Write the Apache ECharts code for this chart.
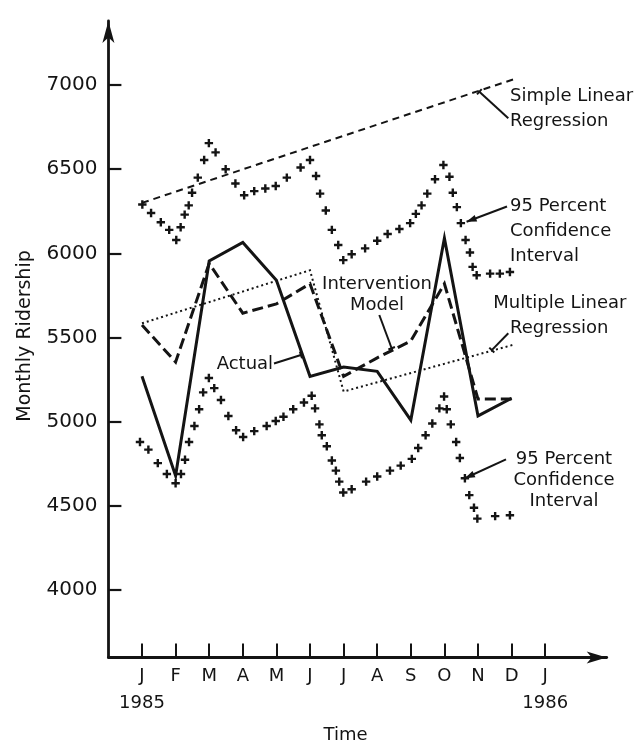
<!DOCTYPE html>
<html>
<head>
<meta charset="utf-8">
<script src="https://cdn.jsdelivr.net/npm/echarts@6/dist/echarts.min.js"></script>
<style>
  html, body { margin: 0; padding: 0; background: #ffffff; }
  #chart { width: 639px; height: 745px; }
</style>
</head>
<body>
<div id="chart"></div>
<script>
// Month ticks: 0 = January 1985 ... 12 = January 1986
const monthLabels = ['J', 'F', 'M', 'A', 'M', 'J', 'J', 'A', 'S', 'O', 'N', 'D', 'J'];
const yearLabels = { 0: '1985', 12: '1986' };
const ridershipTicks = [4000, 4500, 5000, 5500, 6000, 6500, 7000];

// Monthly ridership, Jan..Dec 1985
const actual       = [5270, 4680, 5955, 6065, 5840, 5270, 5325, 5300, 5010, 6090, 5035, 5140];
const intervention = [5575, 5355, 5940, 5645, 5700, 5820, 5270, 5380, 5480, 5820, 5135, 5135];

// Regression fits as [month, ridership] vertices
const simpleRegression   = [[0, 6300], [11.15, 7040]];
const multipleRegression = [[0, 5585], [5, 5900], [6, 5180], [11.1, 5460]];

// 95 percent confidence band, plotted as + marks [month, ridership]
const upperCI = [
  [0.01, 6290], [0.27, 6240], [0.56, 6185], [0.81, 6140], [1.02, 6080], [1.15, 6155],
  [1.27, 6230], [1.39, 6285], [1.49, 6360], [1.66, 6450], [1.85, 6555], [1.99, 6655],
  [2.19, 6600], [2.49, 6500], [2.78, 6415], [3.04, 6345], [3.34, 6370], [3.67, 6385],
  [3.98, 6400], [4.31, 6450], [4.72, 6510], [5.00, 6555], [5.18, 6460], [5.30, 6355],
  [5.47, 6255], [5.65, 6140], [5.84, 6050], [5.99, 5960], [6.24, 5995], [6.64, 6030],
  [7.00, 6075], [7.31, 6115], [7.66, 6145], [7.98, 6180], [8.15, 6235], [8.32, 6285],
  [8.49, 6355], [8.72, 6440], [8.97, 6525], [9.15, 6455], [9.25, 6360], [9.37, 6275],
  [9.49, 6180], [9.63, 6080], [9.76, 6005], [9.84, 5920], [9.96, 5870], [10.36, 5880],
  [10.65, 5880], [10.95, 5890]
];
const lowerCI = [
  [-0.06, 4880], [0.19, 4835], [0.47, 4755], [0.74, 4690], [1.00, 4635], [1.16, 4690],
  [1.28, 4775], [1.40, 4880], [1.56, 4975], [1.70, 5075], [1.82, 5175], [1.99, 5260],
  [2.15, 5200], [2.35, 5130], [2.57, 5035], [2.80, 4950], [3.01, 4910], [3.34, 4945],
  [3.71, 4975], [3.98, 5005], [4.21, 5030], [4.50, 5075], [4.82, 5115], [5.05, 5155],
  [5.15, 5080], [5.28, 4985], [5.35, 4920], [5.50, 4855], [5.65, 4770], [5.77, 4710],
  [5.87, 4645], [5.99, 4580], [6.24, 4600], [6.67, 4645], [7.00, 4675], [7.38, 4710],
  [7.70, 4740], [8.03, 4780], [8.22, 4845], [8.44, 4920], [8.64, 4990], [8.85, 5080],
  [8.99, 5150], [9.07, 5075], [9.19, 4985], [9.35, 4880], [9.46, 4785], [9.61, 4665],
  [9.74, 4565], [9.88, 4490], [9.98, 4425], [10.51, 4440], [10.95, 4445]
];

const INK = '#141414';
const FONT = '"DejaVu Sans", sans-serif';
const PLUS = 'path://M3,0H5.4V3H8.4V5.4H5.4V8.4H3V5.4H0V3H3Z';
const monthly = arr => arr.map((v, i) => [i, v]);

const chart = echarts.init(document.getElementById('chart'), null, { renderer: 'canvas' });

chart.setOption({
  animation: false,
  backgroundColor: '#ffffff',
  grid: {
    left: 108.4, right: 32.3, top: 21, bottom: 87.4,
    containLabel: false, outerBoundsMode: 'none'
  },
  xAxis: {
    type: 'value', min: -1, max: 13.83,
    axisLine: {
      show: true, onZero: false,
      symbol: ['none', 'arrow'], symbolSize: [9, 20],
      lineStyle: { color: INK, width: 2.8 }
    },
    axisTick: {
      show: true, inside: true, length: 14,
      customValues: monthLabels.map((_, i) => i),
      lineStyle: { color: INK, width: 2 }
    },
    axisLabel: {
      show: true, margin: 5,
      customValues: monthLabels.map((_, i) => i),
      color: INK, fontFamily: FONT, fontSize: 18, lineHeight: 27,
      formatter: v => yearLabels[v] ? monthLabels[v] + '\n' + yearLabels[v] : monthLabels[v]
    },
    splitLine: { show: false }
  },
  yAxis: {
    type: 'value', min: 3600, max: 7380,
    axisLine: {
      show: true, onZero: false,
      symbol: ['none', 'arrow'], symbolSize: [9, 22],
      lineStyle: { color: INK, width: 2.8 }
    },
    axisTick: {
      show: true, inside: true, length: 13,
      customValues: ridershipTicks,
      lineStyle: { color: INK, width: 2.2 }
    },
    axisLabel: {
      show: true, margin: 11,
      customValues: ridershipTicks,
      color: INK, fontFamily: FONT, fontSize: 20,
      formatter: v => String(v)
    },
    splitLine: { show: false }
  },
  series: [
    {
      name: 'Simple Linear Regression', type: 'line', data: simpleRegression,
      symbol: 'none', silent: true,
      lineStyle: { color: INK, width: 2, type: [7, 5] }
    },
    {
      name: 'Multiple Linear Regression', type: 'line', data: multipleRegression,
      symbol: 'none', silent: true,
      lineStyle: { color: INK, width: 2, type: [2, 3], join: 'miter' }
    },
    {
      name: 'Intervention Model', type: 'line', data: monthly(intervention),
      symbol: 'none', silent: true,
      lineStyle: { color: INK, width: 3, type: [11, 5], join: 'miter' }
    },
    {
      name: 'Actual', type: 'line', data: monthly(actual),
      symbol: 'none', silent: true,
      lineStyle: { color: INK, width: 3, join: 'miter' }
    },
    {
      name: 'Upper 95% CI', type: 'scatter', data: upperCI,
      symbol: PLUS, symbolSize: 8.4, silent: true,
      itemStyle: { color: INK, opacity: 1 }
    },
    {
      name: 'Lower 95% CI', type: 'scatter', data: lowerCI,
      symbol: PLUS, symbolSize: 8.4, silent: true,
      itemStyle: { color: INK, opacity: 1 }
    }
  ]
});

// Annotation labels with leader lines pointing at the curves
const px = p => chart.convertToPixel({ gridIndex: 0 }, p);
const graphics = [];

function label(text, x, y, align, lineHeight) {
  graphics.push({
    type: 'text', silent: true,
    style: {
      text: text, x: x, y: y,
      fill: INK, font: '18px ' + FONT,
      align: align || 'left', verticalAlign: 'middle',
      textAlign: align || 'left', textVerticalAlign: 'middle',
      lineHeight: lineHeight || 25
    }
  });
}
function leader(from, toData, end) {
  const to = px(toData);
  graphics.push({
    type: 'line', silent: true,
    shape: { x1: from[0], y1: from[1], x2: to[0], y2: to[1] },
    style: { stroke: INK, lineWidth: 2 }
  });
  const dx = to[0] - from[0], dy = to[1] - from[1];
  const len = Math.hypot(dx, dy), ux = dx / len, uy = dy / len;
  if (end === 'arrow') {
    const L = 10, W = 3.5;
    const bx = to[0] - ux * L, by = to[1] - uy * L;
    graphics.push({
      type: 'polygon', silent: true,
      shape: { points: [[to[0], to[1]], [bx - uy * W, by + ux * W], [bx + uy * W, by - ux * W]] },
      style: { fill: INK }
    });
  } else if (end === 'bar') {
    const W = 3.5;
    graphics.push({
      type: 'line', silent: true,
      shape: { x1: to[0] - uy * W, y1: to[1] + ux * W, x2: to[0] + uy * W, y2: to[1] - ux * W },
      style: { stroke: INK, lineWidth: 2 }
    });
  }
}

label('Simple Linear\nRegression', 510, 109.2, 'left', 25);
leader([508.3, 118.3], [10.04, 6960], 'bar');

label('95 Percent\nConfidence\nInterval', 510, 231.7, 'left', 25);
leader([507, 206.5], [9.66, 6188], 'arrow');

label('Intervention\nModel', 377, 294.5, 'center', 21);
leader([379.3, 315], [7.43, 5437], 'bar');

label('Actual', 216.7, 364, 'left');
leader([274, 363.5], [4.73, 5397], 'bar');

label('Multiple Linear', 493.3, 303.3, 'left');
label('Regression', 510, 328.3, 'left');
leader([508.3, 333.3], [10.41, 5426], 'bar');

label('95 Percent\nConfidence\nInterval', 564, 480.5, 'center', 21);
leader([506, 459.3], [9.61, 4665], 'arrow');

// Axis titles
graphics.push({
  type: 'text', silent: true,
  style: {
    text: 'Time', x: 345.6, y: 735, fill: INK, font: '18px ' + FONT,
    align: 'center', verticalAlign: 'middle', textAlign: 'center', textVerticalAlign: 'middle'
  }
});
graphics.push({
  type: 'text', silent: true, x: 25, y: 336, rotation: Math.PI / 2,
  style: {
    text: 'Monthly Ridership', x: 0, y: 0, fill: INK, font: '19px ' + FONT,
    align: 'center', verticalAlign: 'middle', textAlign: 'center', textVerticalAlign: 'middle'
  }
});

chart.setOption({ graphic: graphics });
</script>
</body>
</html>
